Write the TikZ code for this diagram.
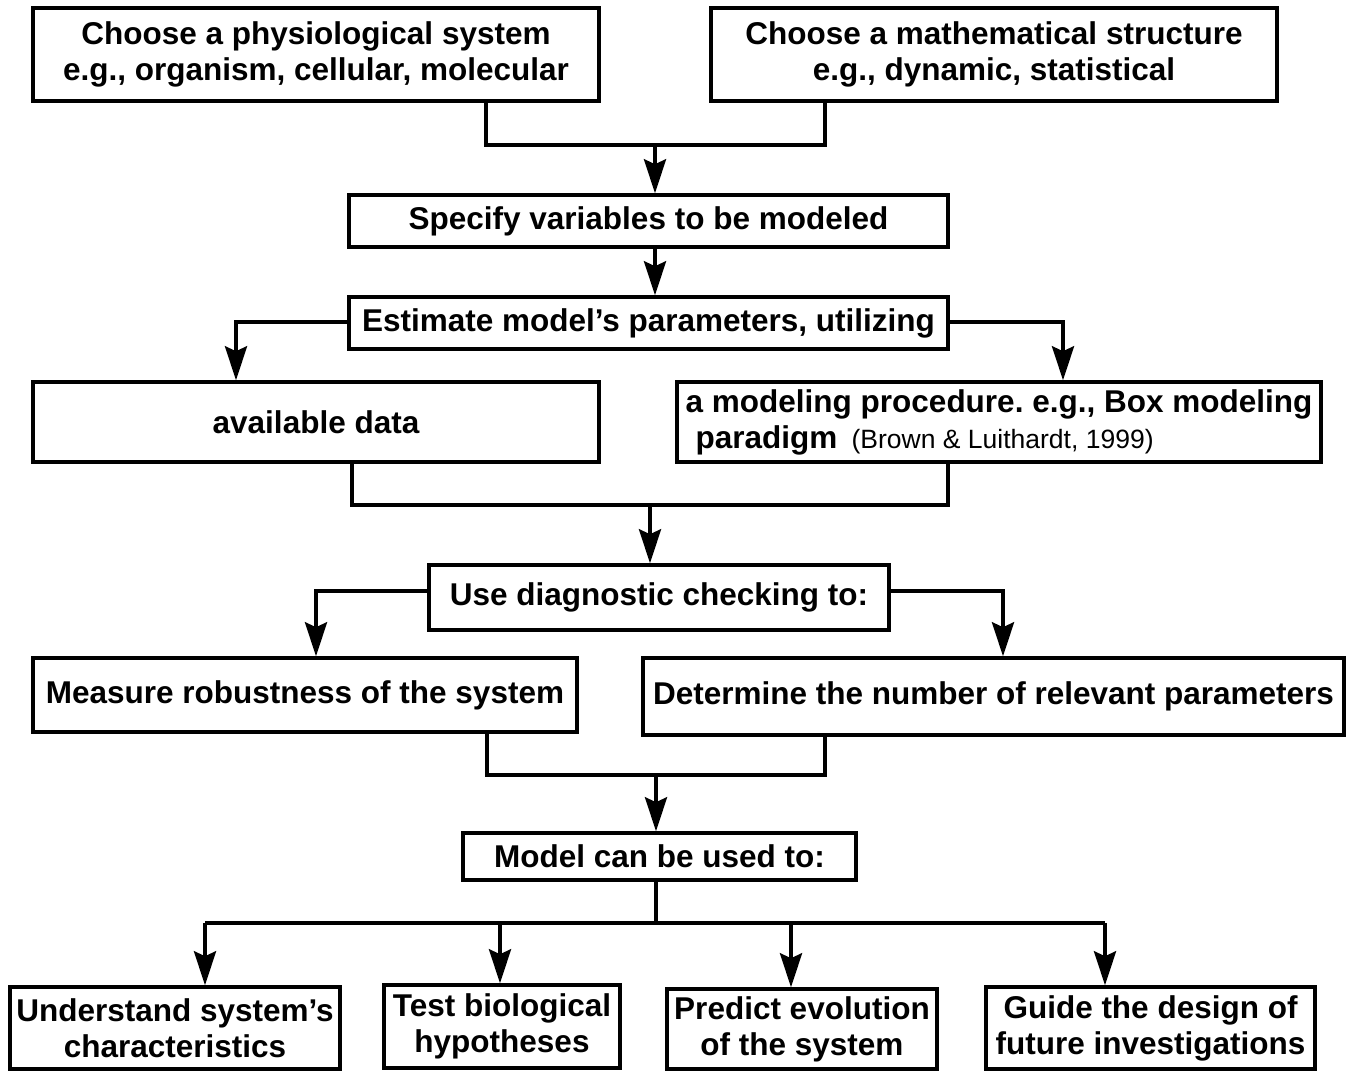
\documentclass[tikz,border=0pt]{standalone}
\usepackage{fontspec}
\setmainfont{Liberation Sans}
\usetikzlibrary{arrows.meta,calc}
\frenchspacing
\begin{document}
\begin{tikzpicture}[x=1pt,y=-1pt,
  box/.style={draw,line width=3.5pt,inner sep=0pt,align=center,
    font=\fontsize{31.5}{36}\selectfont\bfseries\frenchspacing},
  conn/.style={line width=4pt},
  arr/.style={line width=4pt,-{Stealth[length=34pt,width=22pt,inset=5pt]}},
]
\useasboundingbox (0,0) rectangle (1355,1072);
% boxes
\node[box,minimum width=566,minimum height=93] (b1) at (316,54.5)
  {Choose a physiological system\\e.g., organism, cellular, molecular};
\node[box,minimum width=566,minimum height=93] (b2) at (994,54.5)
  {Choose a mathematical structure\\e.g., dynamic, statistical};
\node[box,minimum width=599,minimum height=52] (b3) at (648.5,221)
  {Specify variables to be modeled};
\node[box,minimum width=599,minimum height=52] (b4) at (648.5,323)
  {Estimate model’s parameters, utilizing};
\node[box,minimum width=566,minimum height=80] (b5) at (316,422)
  {available data};
\node[box,minimum width=644,minimum height=80,align=left] (b6) at (999,422)
  {a modeling procedure. e.g., Box modeling\\
   \hspace*{10pt}paradigm\hspace*{0.45em}{\fontsize{26.5}{24}\selectfont\mdseries (Brown \& Luithardt, 1999)}};
\node[box,minimum width=460,minimum height=65] (b7) at (659,597.5)
  {Use diagnostic checking to:};
\node[box,minimum width=544,minimum height=74] (b8) at (305,695)
  {Measure robustness of the system};
\node[box,minimum width=701,minimum height=77] (b9) at (993.5,696.5)
  {Determine the number of relevant parameters};
\node[box,minimum width=393,minimum height=47] (b10) at (659.5,856.5)
  {Model can be used to:};
\node[box,minimum width=330,minimum height=82] (c1) at (175,1028)
  {Understand system’s\\characteristics};
\node[box,minimum width=236,minimum height=83] (c2) at (502,1026.5)
  {Test biological\\hypotheses};
\node[box,minimum width=270,minimum height=80] (c3) at (802,1029)
  {Predict evolution\\of the system};
\node[box,minimum width=329,minimum height=82] (c4) at (1150.5,1028)
  {Guide the design of\\future investigations};
% junction coordinates
\coordinate (j1l) at (486,145);
\coordinate (j1r) at (825,145);
\coordinate (j1) at (655,145);
\coordinate (k1) at (236,322);
\coordinate (k2) at (1063,322);
\coordinate (j3l) at (352,505);
\coordinate (j3r) at (948,505);
\coordinate (j3) at (650,505);
\coordinate (k3) at (316,591);
\coordinate (k4) at (1003,591);
\coordinate (j4l) at (487,775);
\coordinate (j4r) at (825,775);
\coordinate (j4) at (656,775);
\coordinate (j5) at (656,923);
\coordinate (m1) at (205,923);
\coordinate (m2) at (500,923);
\coordinate (m3) at (791,923);
\coordinate (m4) at (1105,923);
% connectors
\draw[conn] (j1l |- b1.south) -- (j1l) -- (j1r) -- (j1r |- b2.south);
\draw[arr] (j1) -- (j1 |- b3.north);
\draw[arr] (j1 |- b3.south) -- (j1 |- b4.north);
\draw[arr] (b4.west |- k1) -- (k1) -- (k1 |- b5.north);
\draw[arr] (b4.east |- k2) -- (k2) -- (k2 |- b6.north);
\draw[conn] (j3l |- b5.south) -- (j3l) -- (j3r) -- (j3r |- b6.south);
\draw[arr] (j3) -- (j3 |- b7.north);
\draw[arr] (b7.west |- k3) -- (k3) -- (k3 |- b8.north);
\draw[arr] (b7.east |- k4) -- (k4) -- (k4 |- b9.north);
\draw[conn] (j4l |- b8.south) -- (j4l) -- (j4r) -- (j4r |- b9.south);
\draw[arr] (j4) -- (j4 |- b10.north);
\draw[conn] (j5 |- b10.south) -- (j5);
\draw[conn] (m1) -- (m4);
\draw[arr] (m1) -- (m1 |- c1.north);
\draw[arr] (m2) -- (m2 |- c2.north);
\draw[arr] (m3) -- (m3 |- c3.north);
\draw[arr] (m4) -- (m4 |- c4.north);
\end{tikzpicture}
\end{document}
